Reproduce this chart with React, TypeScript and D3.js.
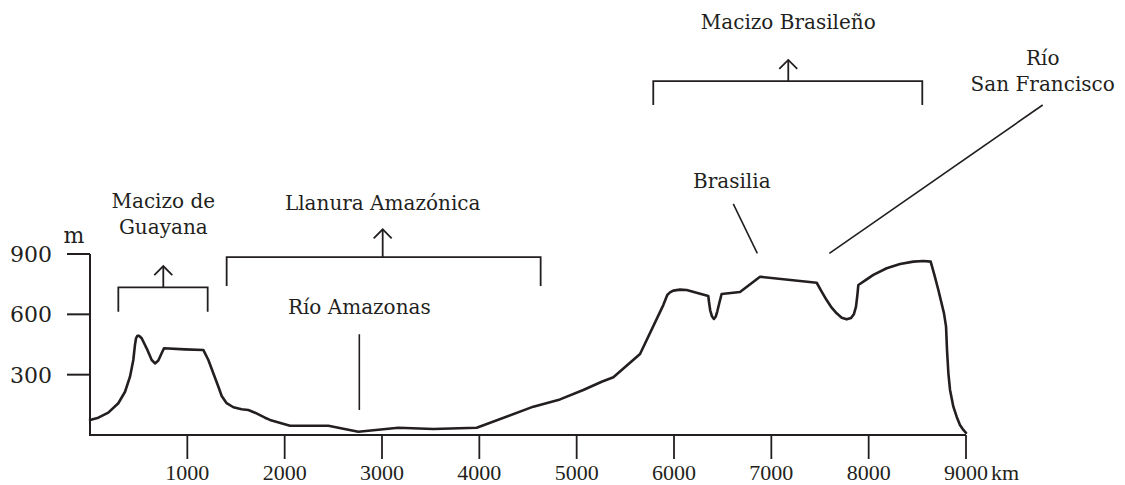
import React from "react";
import * as d3 from "d3";

// Elevation profile across South America (km along section, elevation in m)
const distanceKm = [
  0, 86, 188, 291, 360, 411, 445, 462, 473, 485, 497, 512, 531, 582, 634, 668, 702, 743, 760,
  976, 1164, 1216, 1267, 1319, 1353, 1404, 1473, 1558, 1627, 1695, 1798, 1849, 2055, 2449, 2757,
  3168, 3527, 3973, 4555, 4829, 5068, 5257, 5377, 5651, 5890, 5931, 5959, 5993, 6062, 6130, 6352,
  6360, 6372, 6390, 6410, 6428, 6445, 6465, 6489, 6678, 6884, 7466, 7517, 7568, 7620, 7671, 7723,
  7774, 7819, 7849, 7870, 7884, 7894, 7980, 8048, 8185, 8322, 8459, 8562, 8637, 8671, 8716, 8774,
  8795, 8805, 8819, 8836, 8870, 8904, 8938, 8973, 9000,
];
const elevationM = [
  75, 86, 111, 158, 215, 290, 373, 448, 481, 492, 494, 490, 481, 431, 373, 356, 370, 414, 431,
  426, 423, 373, 307, 240, 194, 158, 138, 128, 124, 111, 86, 75, 46, 46, 16,
  36, 30, 36, 141, 177, 224, 265, 287, 403, 646, 696, 709, 718, 723, 721, 691,
  660, 620, 590, 577, 588, 615, 655, 701, 711, 787, 757, 713, 671, 633, 605, 583,
  575, 582, 602, 638, 696, 746, 774, 796, 829, 850, 862, 865, 862, 804, 721, 605,
  539, 423, 307, 224, 141, 91, 50, 25, 11,
];

const xTicks = [1000, 2000, 3000, 4000, 5000, 6000, 7000, 8000, 9000];
const yTicks = [300, 600, 900];
const xUnit = "km";
const yUnit = "m";

// Brackets (km / m positions)
const bracketNames = ["Macizo de Guayana", "Llanura Amazónica", "Macizo Brasileño"];
const bracketLeft = [291, 1404, 5787];
const bracketRight = [1209, 4630, 8551];
const bracketArrow = [753, 3007, 7174];
const bracketBar = [734, 884, 1760];
const bracketLeg = [613, 741, 1641];
const bracketTop = [840, 1023, 1865];

// Text labels: lines, anchor km, baseline m of first line
const labelLines = [
  ["Macizo de", "Guayana"],
  ["Llanura Amazónica"],
  ["Macizo Brasileño"],
  ["Río Amazonas"],
  ["Brasilia"],
  ["Río", "San Francisco"],
];
const labelKm = [753, 3007, 7174, 2767, 6594, 9788];
const labelM = [1129, 1119, 2017, 602, 1227, 1840];

// Leader lines: [km1, m1, km2, m2]
const leaderLines = [
  [2767, 501, 2767, 124],
  [6609, 1149, 6856, 903],
  [9788, 1641, 7596, 903],
];

const W = 1125;
const H = 485;
const INK = "#231f20";
const LABEL_FONT = "'DejaVu Serif', serif";
const NUM_FONT = "'Liberation Serif', serif";

export default function App() {
  const x = d3.scaleLinear().domain([0, 9000]).range([90, 966]);
  const y = d3.scaleLinear().domain([0, 900]).range([435, 254]);

  const pts: [number, number][] = distanceKm.map((d, i) => [d, elevationM[i]]);
  const line = d3
    .line<[number, number]>()
    .x((d) => x(d[0]))
    .y((d) => y(d[1]))
    .curve(d3.curveLinear);

  const lineH = 26;

  return (
    <svg
      width={W}
      height={H}
      viewBox={`0 0 ${W} ${H}`}
      style={{ position: "absolute", left: 0, top: 0, background: "#fff" }}
    >
      <rect x={0} y={0} width={W} height={H} fill="#fff" />
      {/* profile */}
      <path
        d={line(pts) || ""}
        fill="none"
        stroke={INK}
        strokeWidth={2.6}
        strokeLinejoin="round"
        strokeLinecap="round"
      />

      {/* axes */}
      <line x1={x(0)} x2={x(9000)} y1={y(0)} y2={y(0)} stroke={INK} strokeWidth={2} />
      <line x1={x(0)} x2={x(0)} y1={y(0) + 1} y2={y(900)} stroke={INK} strokeWidth={2} />

      {xTicks.map((t) => (
        <g key={"xt" + t}>
          <line x1={x(t)} x2={x(t)} y1={y(0)} y2={y(0) + 24} stroke={INK} strokeWidth={1.8} />
          <text
            x={x(t)}
            y={480}
            textAnchor="middle"
            fontFamily={NUM_FONT}
            fontSize={22}
            fill={INK}
          >
            {t}
          </text>
        </g>
      ))}
      <text x={x(9000) + 25} y={480} fontFamily={NUM_FONT} fontSize={22} fill={INK}>
        {xUnit}
      </text>

      {yTicks.map((t) => (
        <g key={"yt" + t}>
          <line x1={x(0) - 23} x2={x(0)} y1={y(t)} y2={y(t)} stroke={INK} strokeWidth={2} />
          <text
            x={52}
            y={y(t) + 8}
            textAnchor="end"
            fontFamily={LABEL_FONT}
            fontSize={22}
            fill={INK}
          >
            {t}
          </text>
        </g>
      ))}
      <text x={74} y={243} textAnchor="middle" fontFamily={LABEL_FONT} fontSize={22} fill={INK}>
        {yUnit}
      </text>

      {/* brackets */}
      {bracketNames.map((n, i) => {
        const xl = x(bracketLeft[i]);
        const xr = x(bracketRight[i]);
        const xa = x(bracketArrow[i]);
        const yb = y(bracketBar[i]);
        const yl = y(bracketLeg[i]);
        const yt = y(bracketTop[i]);
        return (
          <g key={n} fill="none" stroke={INK} strokeWidth={1.8}>
            <path d={`M${xl},${yl}V${yb}H${xr}V${yl}`} />
            <line x1={xa} x2={xa} y1={yb} y2={yt} />
            <path d={`M${xa - 9},${yt + 9}L${xa},${yt}L${xa + 9},${yt + 9}`} />
          </g>
        );
      })}

      {/* leader lines */}
      {leaderLines.map((l, i) => (
        <line
          key={"ll" + i}
          x1={x(l[0])}
          y1={y(l[1])}
          x2={x(l[2])}
          y2={y(l[3])}
          stroke={INK}
          strokeWidth={1.6}
        />
      ))}

      {/* labels */}
      {labelLines.map((lines, i) => (
        <text
          key={"lb" + i}
          x={x(labelKm[i])}
          y={y(labelM[i])}
          textAnchor="middle"
          fontFamily={LABEL_FONT}
          fontSize={20}
          fill={INK}
        >
          {lines.map((s, j) => (
            <tspan key={j} x={x(labelKm[i])} dy={j === 0 ? 0 : lineH}>
              {s}
            </tspan>
          ))}
        </text>
      ))}
    </svg>
  );
}
